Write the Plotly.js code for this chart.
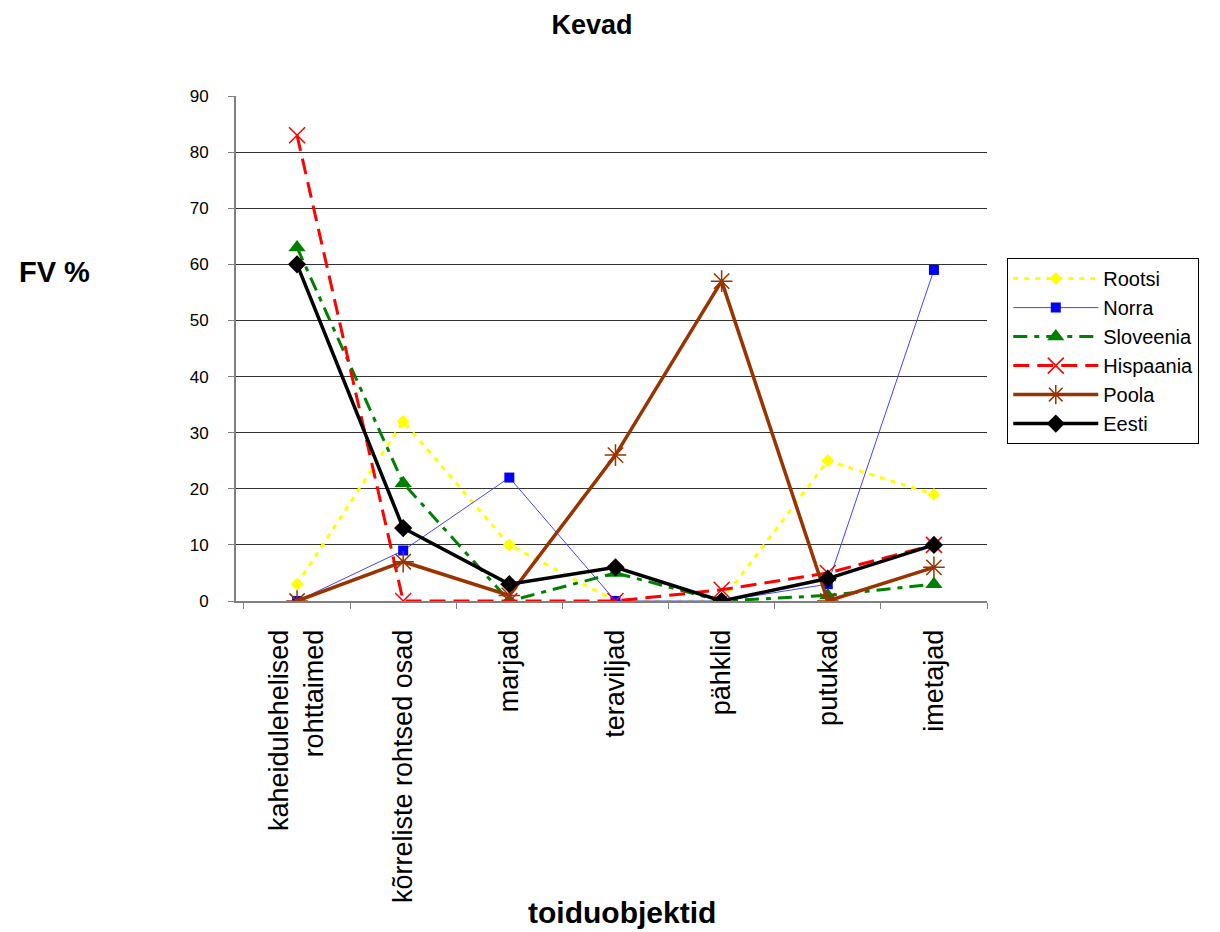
<!DOCTYPE html>
<html>
<head>
<meta charset="utf-8">
<script src="https://cdn.plot.ly/plotly-3.0.1.min.js"></script>
<style>html,body{margin:0;padding:0;background:#fff;}#chart{width:1220px;height:932px;}</style>
</head>
<body>
<div id="chart"></div>
<script>
var categories = ["kaheidulehelised<br>rohttaimed", "kõrreliste rohtsed osad", "marjad", "teraviljad", "pähklid", "putukad", "imetajad"];
var rootsi    = [3, 32, 10, 0, 0, 25, 19];
var norra     = [0, 9, 22, 0, 0, 3, 59];
var sloveenia = [63, 21, 0, 5, 0, 1, 3];
var hispaania = [83, 0, 0, 0, 2, 5, 10];
var poola     = [0, 7, 1, 26, 57, 0, 6];
var eesti     = [60, 13, 3, 6, 0, 4, 10];
var yTicks = [0, 10, 20, 30, 40, 50, 60, 70, 80, 90];

var F = "Liberation Sans, Arial, sans-serif";
var traces = [
  {name: "Rootsi", x: categories, y: rootsi, mode: "lines+markers",
   line: {color: "#FFFF00", width: 3, dash: "5px,6px"},
   marker: {symbol: "diamond", size: 10, color: "#FFFF00"}},
  {name: "Norra", x: categories, y: norra, mode: "lines+markers",
   line: {color: "#4444FF", width: 1},
   marker: {symbol: "square", size: 10, color: "#0000FF"}},
  {name: "Sloveenia", x: categories, y: sloveenia, mode: "lines+markers",
   line: {color: "#008000", width: 3, dash: "14px,7px,5px,7px"},
   marker: {symbol: "triangle-up", size: 15, color: "#008000"}},
  {name: "Hispaania", x: categories, y: hispaania, mode: "lines+markers",
   line: {color: "#FF0000", width: 3, dash: "16px,8px"},
   marker: {symbol: "x-thin-open", size: 16, color: "#FF0000", line: {color: "#FF0000", width: 1.5}}},
  {name: "Poola", x: categories, y: poola, mode: "lines+markers",
   line: {color: "#993300", width: 3.5},
   marker: {symbol: "asterisk-open", size: 18, color: "#993300", line: {color: "#993300", width: 1.5}}},
  {name: "Eesti", x: categories, y: eesti, mode: "lines+markers",
   line: {color: "#000000", width: 3.5},
   marker: {symbol: "diamond", size: 14, color: "#000000"}}
];

var layout = {
  width: 1220, height: 932,
  margin: {l: 236, r: 233, t: 96, b: 331},
  paper_bgcolor: "#fff", plot_bgcolor: "#fff",
  font: {family: F, color: "#000"},
  title: {text: "<b>Kevad</b>", font: {family: F, size: 27, color: "#000"},
          x: 0.474, xanchor: "center", xref: "paper", y: 0.974, yanchor: "middle"},
  showlegend: true,
  legend: {x: 1.027, xanchor: "left", y: 0.679, yanchor: "top",
           bordercolor: "#000", borderwidth: 1, bgcolor: "#fff",
           font: {family: F, size: 20, color: "#000"}, itemwidth: 85, tracegroupgap: 0},
  xaxis: {type: "category", range: [-0.575, 6.5], tickson: "boundaries",
          ticks: "outside", ticklen: 6, tickcolor: "#808080",
          showline: true, linecolor: "#808080", linewidth: 2, showgrid: false,
          tickangle: -90, tickfont: {family: F, size: 27, color: "#000"},
          ticklabelstandoff: 16, zeroline: false},
  yaxis: {range: [0, 90], tickvals: yTicks, ticktext: yTicks.map(String),
          ticks: "outside", ticklen: 6, tickcolor: "#808080",
          showline: true, linecolor: "#808080", linewidth: 2,
          showgrid: true, gridcolor: "#333", gridwidth: 1, zeroline: false,
          tickfont: {family: F, size: 17, color: "#000"}, ticklabelstandoff: 16},
  annotations: [
    {text: "<b>FV %</b>", xref: "paper", yref: "paper", x: (54 - 236) / 751, y: (601 - 272) / 505,
     xanchor: "center", yanchor: "middle", showarrow: false, font: {family: F, size: 29, color: "#000"}},
    {text: "<b>toiduobjektid</b>", xref: "paper", yref: "paper", x: (622 - 236) / 751, y: (601 - 912) / 505,
     xanchor: "center", yanchor: "middle", showarrow: false, font: {family: F, size: 30, color: "#000"}}
  ]
};

Plotly.newPlot("chart", traces, layout, {displayModeBar: false, staticPlot: true});
</script>
</body>
</html>
